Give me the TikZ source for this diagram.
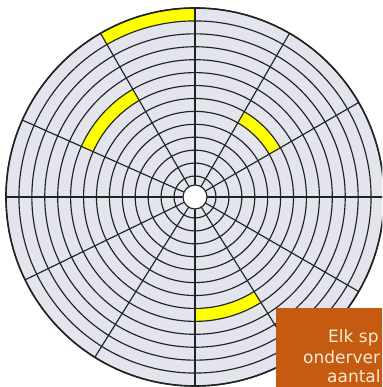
\documentclass[tikz,border=0pt]{standalone}
\usepackage{fontspec}
\setmainfont{DejaVu Sans}
\usetikzlibrary{positioning}
\definecolor{DiskGrey}{HTML}{E4E4EC}
\definecolor{DiskLine}{HTML}{1E2326}
\definecolor{SectorYellow}{HTML}{FFFF00}
\definecolor{NoteOrange}{HTML}{C55A11}
\definecolor{NoteText}{HTML}{FBEBD3}

\begin{document}
\begin{tikzpicture}[x=1pt,y=1pt,
    track/.style={DiskLine,line width=1.15pt},
    notetext/.style={text=NoteText,anchor=base west,inner sep=0pt,
      font=\fontsize{17}{21}\selectfont}]
  \useasboundingbox (-195,-190) rectangle (187,197);
  \clip (-195,-190) rectangle (187,197);
  \fill[white] (-195,-190) rectangle (187,197);

  \fill[DiskGrey] (0,0) circle[radius=189];

  % marked sectors: start/end angle, inner/outer radius
  \foreach \a/\b/\ri/\ro in {90/120/176.08/189,120/156/111.46/124.38,
      30/60/85.62/98.54,270/302/111.46/124.38}{
    \fill[SectorYellow] (\a:\ri) arc[start angle=\a,end angle=\b,radius=\ri]
      -- (\b:\ro) arc[start angle=\b,end angle=\a,radius=\ro] -- cycle;
  }

  % tracks
  \foreach \k in {0,...,13}
    \draw[track] (0,0) circle[radius={21+12.923*\k}];

  % sector borders
  \foreach \a in {0,30,60,90,120,156,180,206,238,270,302,330}
    \draw[track] (\a:12) -- (\a:189);

  \fill[white] (0,0) circle[radius=12];
  \draw[track] (0,0) circle[radius=12];
  \draw[DiskLine,line width=1.6pt] (0,0) circle[radius=189];

  \fill[NoteOrange] (81,-111) rectangle (200,-200);
  \node[notetext] (line1) at (133,-145) {Elk sp};
  \node[notetext] (line2) at (108,-166) {onderver};
  \node[notetext] (line3) at (132,-185) {aantal};
\end{tikzpicture}
\end{document}
